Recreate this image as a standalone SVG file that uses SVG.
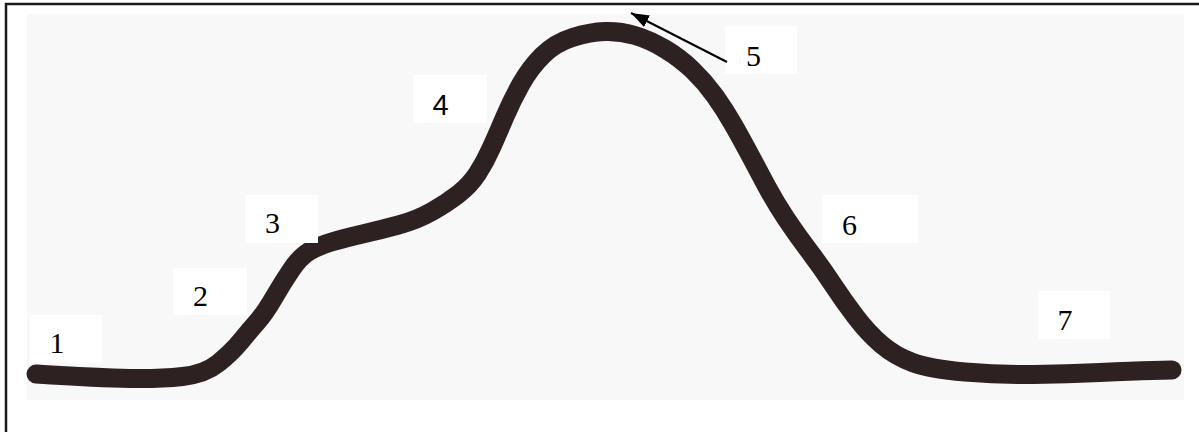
<svg xmlns="http://www.w3.org/2000/svg" width="1199" height="432" viewBox="0 0 1199 432">
<style>
.lbl{fill:#ffffff;stroke:none}
.t{font-family:"Liberation Serif","Times New Roman",serif;font-size:30px;fill:#000;text-anchor:middle}
.ts{font-family:"Liberation Sans",Arial,sans-serif;font-size:29px;fill:#000;text-anchor:middle}
.curve{fill:none;stroke:#2d2221;stroke-width:19;stroke-linecap:round;stroke-linejoin:round}
.conn{fill:none;stroke:#000;stroke-width:2}
</style>
<defs>
<marker id="ah" markerUnits="userSpaceOnUse" markerWidth="20" markerHeight="14" refX="18" refY="6.5" orient="auto">
<path d="M0,0 L18,6.5 L0,13 z" fill="#000"/>
</marker>
</defs>
<rect x="0" y="0" width="1199" height="432" fill="#ffffff"/>
<rect x="6" y="4" width="1300" height="600" fill="none" stroke="#1a1a1a" stroke-width="2.5"/>
<rect x="27" y="14" width="1157" height="386" fill="#f8f8f8"/>
<path class="curve" d="M36,374 Q100,378 130,378.5 Q160,379 182.5,376.5 Q205,374 218.5,363 Q232,352 241,341 Q250,330 257.5,321.5 Q265,313 274,297.5 Q283,282 291.5,269.5 Q300,257 309,251.5 Q318,246 331.5,242 Q345,238 362.5,234 Q380,230 398.5,225 Q417,220 432,211.5 Q447,203 458.5,194 Q470,185 477.5,173.5 Q485,162 491.5,147.5 Q498,133 505,116.5 Q512,100 521,84 Q530,68 542.5,55.5 Q555,43 572.5,37.5 Q590,32 605,31.5 Q620,31 635,35.5 Q650,40 665,49 Q680,58 692.5,70 Q705,82 715,96 Q725,110 733.5,125 Q742,140 750,155 Q758,170 766.5,186 Q775,202 786,218.5 Q797,235 809.5,251.5 Q822,268 832.5,284 Q843,300 855.5,316.5 Q868,333 881.5,344.5 Q895,356 912.5,362.5 Q930,369 965,372 Q1000,375 1033.5,374.5 Q1067,374 1100,372.5 Q1133,371 1152.5,370.5 L1172,370"/>
<g id="label-1"><rect class="lbl" x="30" y="315" width="72" height="48"/><text class="t" x="57" y="353">1</text></g>
<g id="label-2"><rect class="lbl" x="173" y="268" width="74" height="47"/><text class="t" x="200.5" y="306">2</text></g>
<g id="label-3"><rect class="lbl" x="245" y="195" width="73" height="48"/><text class="t" x="272.5" y="233">3</text></g>
<g id="label-4"><rect class="lbl" x="413" y="75" width="74" height="48"/><text class="ts" x="440.5" y="115">4</text></g>
<g id="label-5"><rect class="lbl" x="725" y="26" width="72" height="48"/><text class="t" x="753.5" y="66">5</text></g>
<g id="label-6"><rect class="lbl" x="822" y="195" width="96" height="48"/><text class="t" x="849.5" y="235">6</text></g>
<g id="label-7"><rect class="lbl" x="1038" y="291" width="72" height="48"/><text class="t" x="1065" y="330">7</text></g>
<g id="connectors"><line class="conn" x1="727" y1="62" x2="631" y2="13" marker-end="url(#ah)"/></g>
</svg>
